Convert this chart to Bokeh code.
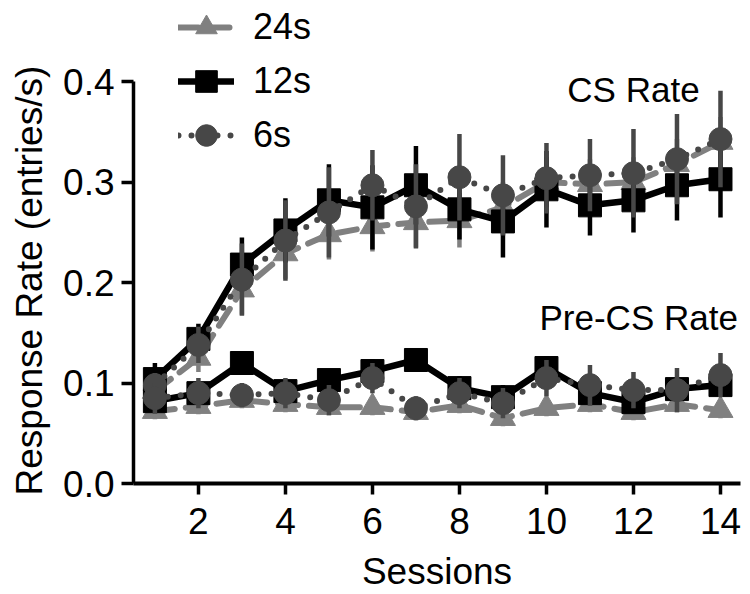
from bokeh.plotting import figure
from bokeh.models import Range1d, Legend, LegendItem, Label, FixedTicker, NumeralTickFormatter, Title
from bokeh.embed import file_html
from bokeh.resources import INLINE

# ---- data ----
sessions = list(range(1, 15))
series_labels = ["24s", "12s", "6s"]

cs_24 = [0.092, 0.125, 0.193, 0.229, 0.248, 0.256, 0.260, 0.262, 0.275, 0.300, 0.298, 0.300, 0.318, 0.340]
cs_24_err = [0.010, 0.014, 0.025, 0.025, 0.025, 0.025, 0.025, 0.027, 0.025, 0.025, 0.025, 0.025, 0.025, 0.025]
cs_12 = [0.104, 0.144, 0.218, 0.252, 0.282, 0.275, 0.297, 0.273, 0.261, 0.293, 0.277, 0.282, 0.297, 0.303]
cs_12_err = [0.016, 0.015, 0.027, 0.032, 0.036, 0.042, 0.039, 0.030, 0.036, 0.038, 0.030, 0.032, 0.035, 0.038]
cs_6 = [0.098, 0.138, 0.203, 0.242, 0.270, 0.297, 0.276, 0.305, 0.287, 0.304, 0.307, 0.309, 0.323, 0.343]
cs_6_err = [0.012, 0.018, 0.036, 0.040, 0.045, 0.035, 0.042, 0.043, 0.040, 0.035, 0.036, 0.044, 0.045, 0.048]

pre_24 = [0.072, 0.077, 0.083, 0.079, 0.076, 0.076, 0.071, 0.078, 0.065, 0.075, 0.079, 0.071, 0.079, 0.073]
pre_24_err = [0.008, 0.008, 0.008, 0.008, 0.008, 0.008, 0.008, 0.008, 0.008, 0.008, 0.008, 0.008, 0.008, 0.008]
pre_12 = [0.082, 0.090, 0.120, 0.092, 0.103, 0.112, 0.123, 0.095, 0.086, 0.115, 0.090, 0.081, 0.094, 0.098]
pre_12_err = [0.012, 0.010, 0.010, 0.010, 0.010, 0.012, 0.010, 0.012, 0.012, 0.012, 0.012, 0.010, 0.012, 0.010]
pre_6 = [0.085, 0.090, 0.088, 0.090, 0.083, 0.105, 0.075, 0.090, 0.080, 0.105, 0.098, 0.093, 0.093, 0.108]
pre_6_err = [0.015, 0.015, 0.012, 0.015, 0.015, 0.015, 0.012, 0.015, 0.015, 0.018, 0.020, 0.018, 0.022, 0.022]

x_ticks = [2, 4, 6, 8, 10, 12, 14]
y_ticks = [0.0, 0.1, 0.2, 0.3, 0.4]

cs_label_pos = (12.0, 0.392)
pre_label_pos = (12.12, 0.165)

FONT = "Liberation Sans"

p = figure(width=750, height=594, output_backend="svg", toolbar_location=None,
           x_range=Range1d(0.508, 14.46), y_range=Range1d(0, 0.481),
           min_border_left=132, min_border_right=10, min_border_top=0, min_border_bottom=107)
p.outline_line_color = None
p.xgrid.visible = False
p.ygrid.visible = False

styles = {
    "24s": dict(color="#808080", dash="20 11", marker="triangle", size=25, lw=6),
    "12s": dict(color="#000000", dash="solid", marker="square", size=23, lw=6.5),
    "6s": dict(color="#474747", dash="0 13", marker="circle", size=23, lw=6),
}
data = {
    "24s": [(cs_24, cs_24_err), (pre_24, pre_24_err)],
    "12s": [(cs_12, cs_12_err), (pre_12, pre_12_err)],
    "6s": [(cs_6, cs_6_err), (pre_6, pre_6_err)],
}

legend_items = []
for lab in series_labels:
    st = styles[lab]
    rends = None
    for vals, errs in data[lab]:
        lo = [v - e for v, e in zip(vals, errs)]
        hi = [v + e for v, e in zip(vals, errs)]
        p.segment(sessions, lo, sessions, hi, line_color=st["color"], line_width=4.5)
        ln = p.line(sessions, vals, line_color=st["color"], line_width=st["lw"],
                    line_dash=st["dash"], line_cap="round")
        sc = p.scatter(sessions, vals, marker=st["marker"], size=st["size"],
                       fill_color=st["color"], line_color=st["color"])
        if rends is None:
            rends = [ln, sc]
    legend_items.append(LegendItem(label=lab, renderers=rends))

legend = Legend(items=legend_items, location=(45, 321),
                glyph_width=56, glyph_height=54, spacing=-1, label_standoff=19,
                padding=0, margin=0, border_line_color=None, background_fill_alpha=0,
                label_text_font=FONT, label_text_font_size="36px", label_text_color="black")
p.add_layout(legend, "center")

for txt, (lx, ly) in [("CS Rate", cs_label_pos), ("Pre-CS Rate", pre_label_pos)]:
    p.add_layout(Label(x=lx, y=ly, text=txt, text_align="center", text_baseline="alphabetic",
                       text_font=FONT, text_font_size="35px", text_color="black"))

for ax in (p.xaxis[0], p.yaxis[0]):
    ax.axis_line_color = "black"
    ax.major_tick_line_color = "black"
    ax.minor_tick_line_color = None
    ax.major_tick_in = 0
    ax.major_label_text_font = FONT
    ax.major_label_text_font_size = "37px"
    ax.major_label_text_color = "black"
    ax.axis_label_text_font = FONT
    ax.axis_label_text_font_size = "37px"
    ax.axis_label_text_font_style = "normal"
    ax.axis_label_text_color = "black"

p.xaxis.ticker = FixedTicker(ticks=x_ticks)
p.yaxis.ticker = FixedTicker(ticks=y_ticks)
p.yaxis.formatter = NumeralTickFormatter(format="0.0")
p.yaxis.bounds = (0, 0.4)
p.xaxis.axis_line_width = 4
p.yaxis.axis_line_width = 3.5
p.xaxis.major_tick_line_width = 3.5
p.yaxis.major_tick_line_width = 3.5
p.xaxis.major_tick_out = 11
p.yaxis.major_tick_out = 12
p.xaxis.major_label_standoff = 13
p.yaxis.major_label_standoff = 7
p.xaxis.axis_label = "Sessions"
p.xaxis.axis_label_standoff = 14

ytitle = Title(text="Response Rate (entries/s)", align="left", offset=-12,
               vertical_align="top", standoff=17,
               text_font=FONT, text_font_size="37px", text_font_style="normal",
               text_color="black")
p.add_layout(ytitle, "left")

open("out.html", "w").write(file_html(p, INLINE))
